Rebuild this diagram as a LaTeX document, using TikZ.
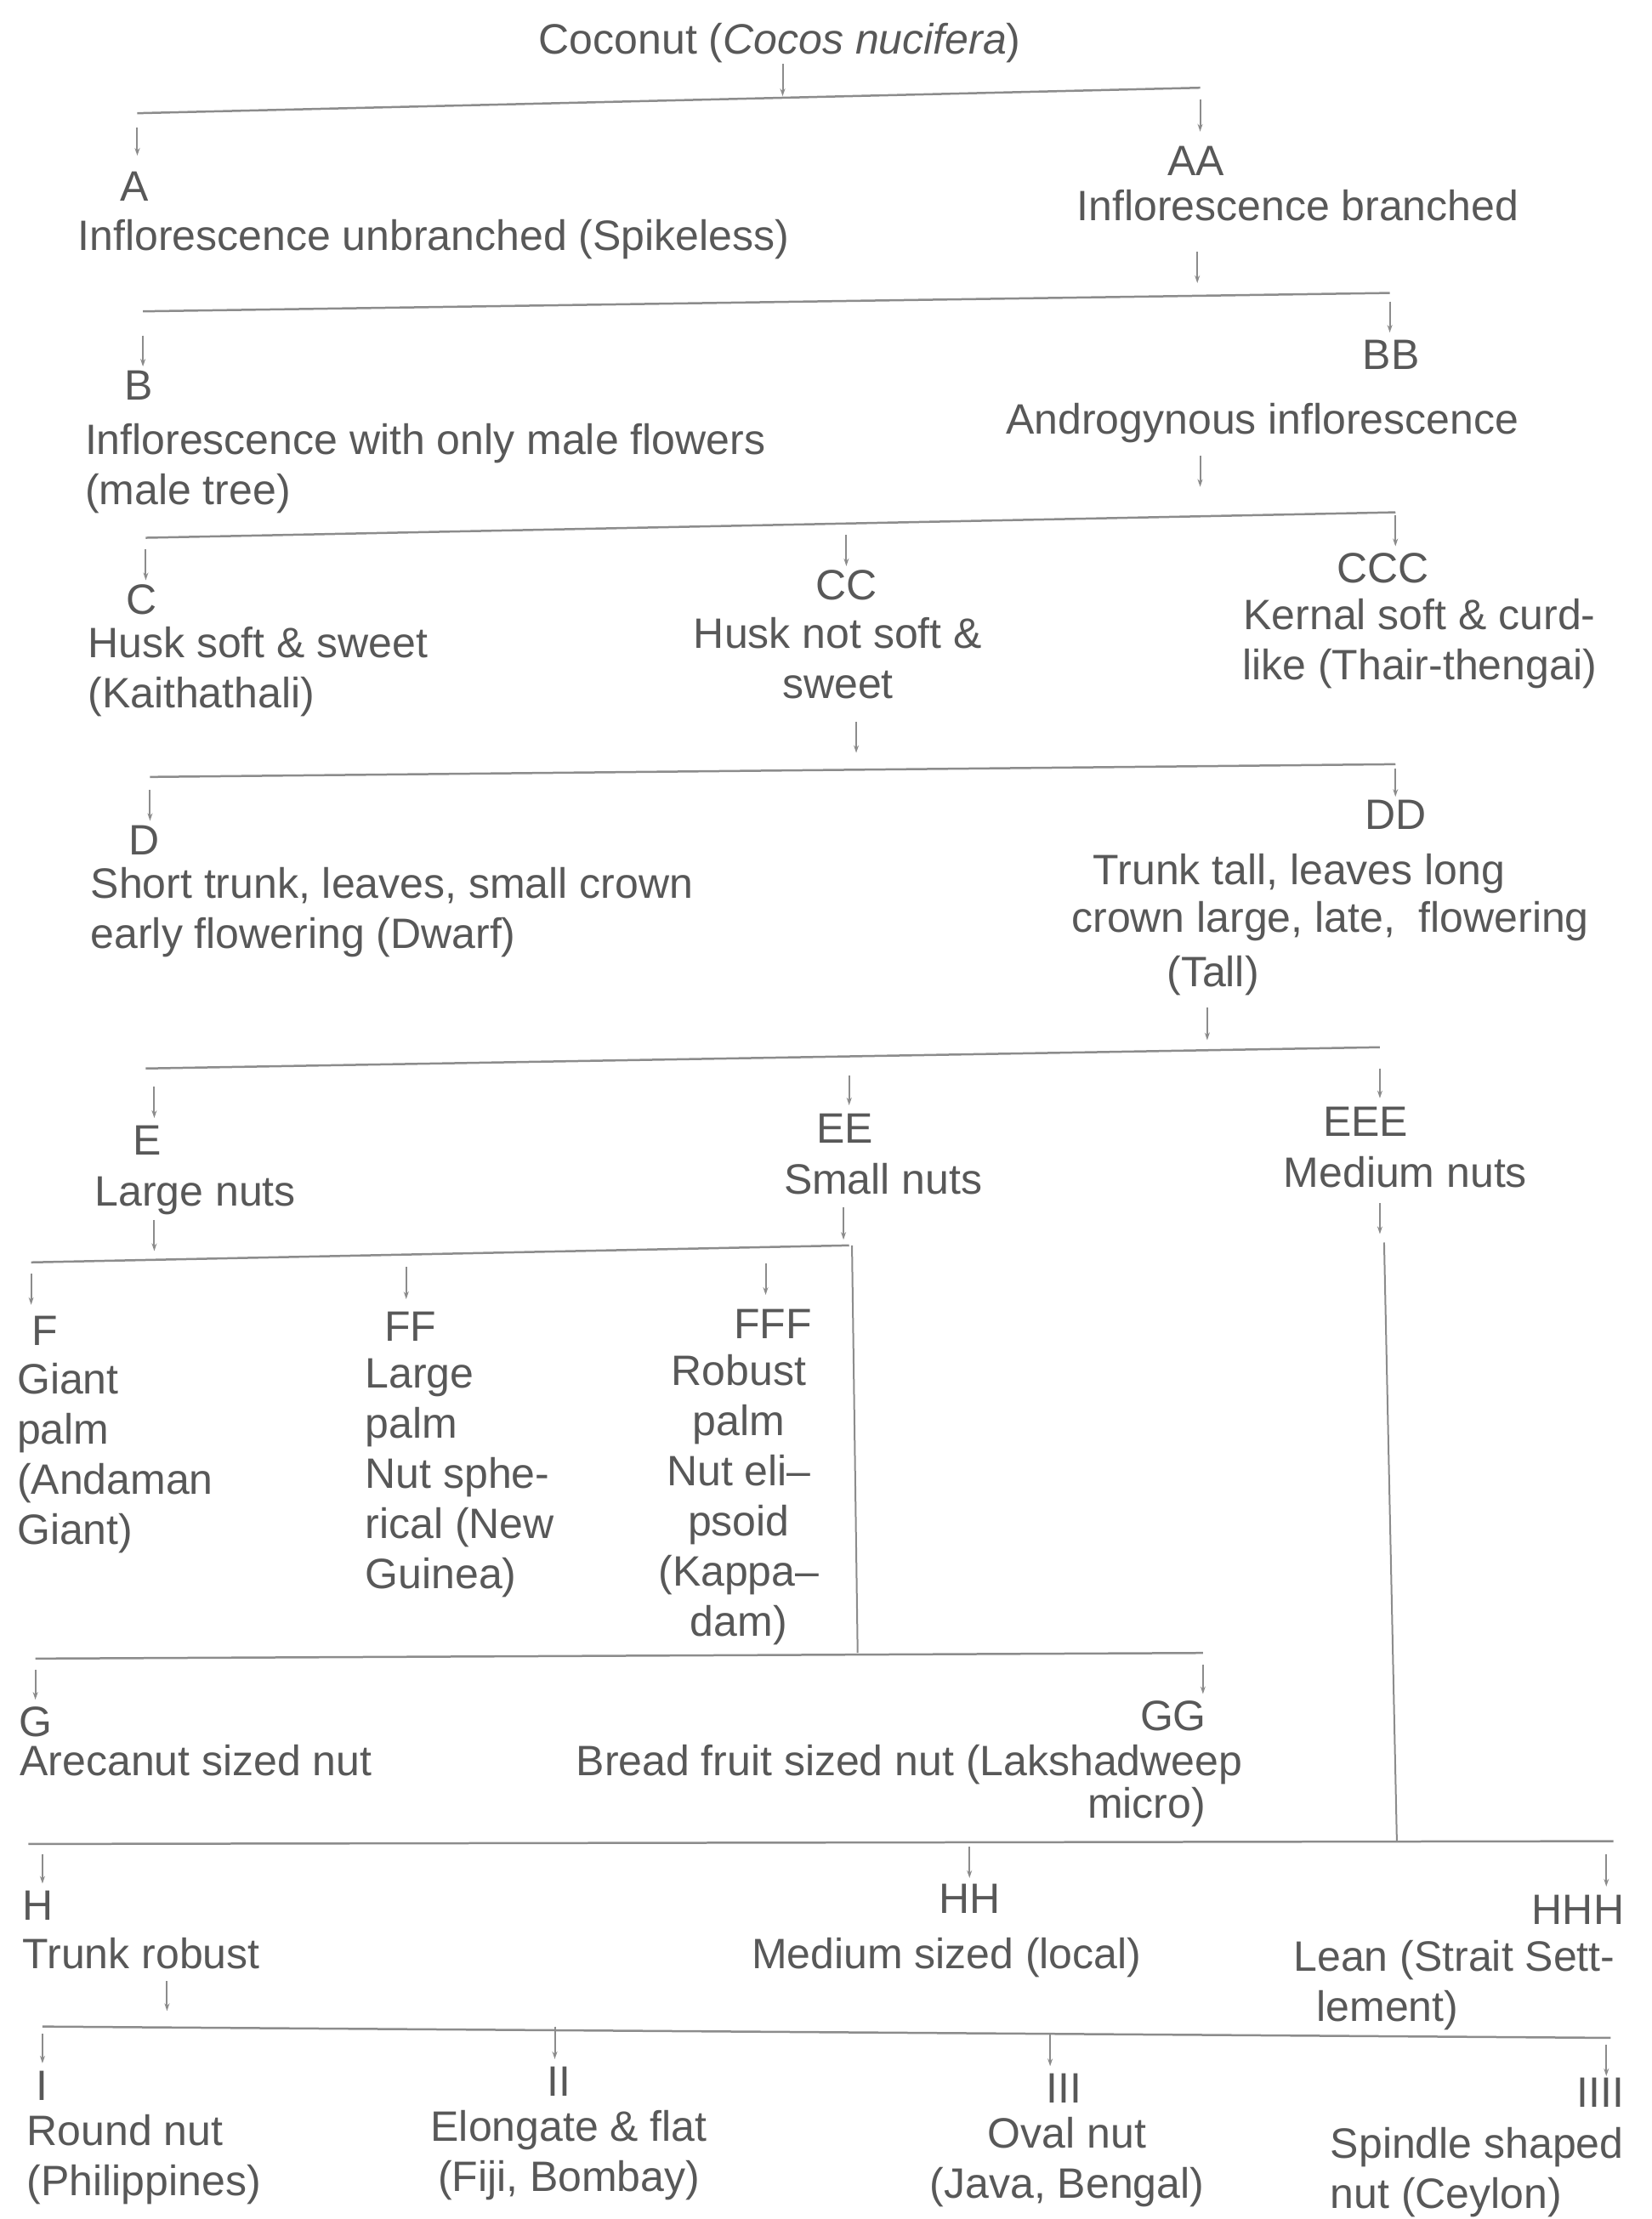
\documentclass[tikz,border=0pt]{standalone}
\usepackage{fontspec}
\usetikzlibrary{arrows.meta}
\newfontfamily\dgfam{Liberation Sans}
\newcommand\dgfont{\dgfam\fontsize{50}{59}\selectfont}
\definecolor{ink}{RGB}{88,88,88}
\definecolor{barc}{RGB}{140,140,140}
\tikzset{
  lab/.style={font=\dgfont, text=ink, inner sep=0pt, anchor=north, execute at begin node=\strut},
  desc/.style={lab, anchor=north west, align=left},
  descc/.style={lab, anchor=north, align=center},
  descr/.style={lab, anchor=north east, align=right},
  bar/.style={draw=barc, line width=2.5pt},
  arr/.style={draw=barc, line width=2pt, -{Stealth[length=9pt,width=6pt]}},
}
\begin{document}
\begin{tikzpicture}[x=1.665pt,y=-1.665pt]
\useasboundingbox (0,0) rectangle (1167,1568);
% ---- title
\node[lab] (top) at (551,13) {Coconut (\textit{Cocos nucifera})};
\coordinate (t0) at (553,45); \coordinate (t1) at (553,68);
\draw[arr] (t0) -- (t1);
% ---- level A
\coordinate (b1l) at (97,80); \coordinate (b1r) at (848,62);
\draw[bar] (b1l) -- (b1r);
\coordinate (aA0) at (97,90); \coordinate (aA1) at (97,110);
\draw[arr] (aA0) -- (aA1);
\node[lab] (A) at (95,117) {A};
\node[desc] (Ad) at (55,152) {Inflorescence unbranched (Spikeless)};
\coordinate (aAA0) at (848,70); \coordinate (aAA1) at (848,93);
\draw[arr] (aAA0) -- (aAA1);
\node[lab] (AA) at (845,99) {AA};
\node[descc] (AAd) at (917,131) {Inflorescence branched};
\coordinate (dAA0) at (846,178); \coordinate (dAA1) at (846,200);
\draw[arr] (dAA0) -- (dAA1);
% ---- level B
\coordinate (b2l) at (101,220); \coordinate (b2r) at (982,207);
\draw[bar] (b2l) -- (b2r);
\coordinate (aB0) at (101,237); \coordinate (aB1) at (101,259);
\draw[arr] (aB0) -- (aB1);
\node[lab] (B) at (98,258) {B};
\node[desc] (Bd) at (60,299) {Inflorescence with only male flowers\\(male tree)};
\coordinate (aBB0) at (982,213); \coordinate (aBB1) at (982,235);
\draw[arr] (aBB0) -- (aBB1);
\node[lab] (BB) at (983,236) {BB};
\node[descc] (BBd) at (892,282) {Androgynous inflorescence};
\coordinate (dBB0) at (848,322); \coordinate (dBB1) at (848,344);
\draw[arr] (dBB0) -- (dBB1);
% ---- level C
\coordinate (b3l) at (103,380); \coordinate (b3r) at (986,362);
\draw[bar] (b3l) -- (b3r);
\coordinate (aC0) at (103,388); \coordinate (aC1) at (103,410);
\draw[arr] (aC0) -- (aC1);
\node[lab] (C) at (100,409) {C};
\node[desc] (Cd) at (62,443) {Husk soft \& sweet\\(Kaithathali)};
\coordinate (aCC0) at (598,378); \coordinate (aCC1) at (598,400);
\draw[arr] (aCC0) -- (aCC1);
\node[lab] (CC) at (598,399) {CC};
\node[descc] (CCd) at (592,436) {Husk not soft \&\\sweet};
\coordinate (dCC0) at (605,510); \coordinate (dCC1) at (605,532);
\draw[arr] (dCC0) -- (dCC1);
\coordinate (aCCC0) at (986,364); \coordinate (aCCC1) at (986,386);
\draw[arr] (aCCC0) -- (aCCC1);
\node[lab] (CCC) at (977,387) {CCC};
\node[descc] (CCCd) at (1003,423) {Kernal soft \& curd-\\like (Thair-thengai)};
% ---- level D
\coordinate (b4l) at (106,549); \coordinate (b4r) at (986,540);
\draw[bar] (b4l) -- (b4r);
\coordinate (aD0) at (106,558); \coordinate (aD1) at (106,580);
\draw[arr] (aD0) -- (aD1);
\node[lab] (D) at (102,579) {D};
\node[desc] (Dd) at (64,613) {Short trunk, leaves, small crown\\early flowering (Dwarf)};
\coordinate (aDD0) at (986,543); \coordinate (aDD1) at (986,563);
\draw[arr] (aDD0) -- (aDD1);
\node[lab] (DD) at (986,561) {DD};
\node[descc] (DDd1) at (918,600) {Trunk tall, leaves long};
\node[descc] (DDd2) at (940,634) {crown large, late,\ \ flowering};
\node[descc] (DDd3) at (857,672) {(Tall)};
\coordinate (dDD0) at (853,712); \coordinate (dDD1) at (853,735);
\draw[arr] (dDD0) -- (dDD1);
% ---- level E
\coordinate (b5l) at (103,755); \coordinate (b5r) at (975,740);
\draw[bar] (b5l) -- (b5r);
\coordinate (aE0) at (109,768); \coordinate (aE1) at (109,790);
\draw[arr] (aE0) -- (aE1);
\node[lab] (E) at (104,791) {E};
\node[desc] (Ed) at (67,827) {Large nuts};
\coordinate (dE0) at (109,862); \coordinate (dE1) at (109,884);
\draw[arr] (dE0) -- (dE1);
\coordinate (aEE0) at (600,760); \coordinate (aEE1) at (600,781);
\draw[arr] (aEE0) -- (aEE1);
\node[lab] (EE) at (597,783) {EE};
\node[descc] (EEd) at (624,819) {Small nuts};
\coordinate (dEE0) at (596,853); \coordinate (dEE1) at (596,876);
\draw[arr] (dEE0) -- (dEE1);
\coordinate (aEEE0) at (975,755); \coordinate (aEEE1) at (975,776);
\draw[arr] (aEEE0) -- (aEEE1);
\node[lab] (EEE) at (965,778) {EEE};
\node[descc] (EEEd) at (993,814) {Medium nuts};
\coordinate (dEEE0) at (975,850); \coordinate (dEEE1) at (975,872);
\draw[arr] (dEEE0) -- (dEEE1);
\coordinate (vEEE0) at (978,878); \coordinate (vEEE1) at (987,1301);
\draw[bar, line width=2pt] (vEEE0) -- (vEEE1);
% ---- level F
\coordinate (b6l) at (22,892); \coordinate (b6r) at (600,880);
\draw[bar] (b6l) -- (b6r);
\coordinate (vEE0) at (602,880); \coordinate (vEE1) at (606,1168);
\draw[bar, line width=2pt] (vEE0) -- (vEE1);
\coordinate (aF0) at (22,900); \coordinate (aF1) at (22,922);
\draw[arr] (aF0) -- (aF1);
\node[lab] (F) at (32,926) {F};
\node[desc] (Fd) at (12,963) {Giant\\palm\\(Andaman\\Giant)};
\coordinate (aFF0) at (287,895); \coordinate (aFF1) at (287,918);
\draw[arr] (aFF0) -- (aFF1);
\node[lab] (FF) at (290,923) {FF};
\node[desc] (FFd) at (258,960) {Large\\palm\\Nut sphe-\\rical (New\\Guinea)};
\coordinate (aFFF0) at (541,893); \coordinate (aFFF1) at (541,915);
\draw[arr] (aFFF0) -- (aFFF1);
\node[lab] (FFF) at (546,921) {FFF};
\node[descc] (FFFd) at (522,957) {Robust\\palm\\Nut eli–\\psoid\\(Kappa–\\dam)};
% ---- level G
\coordinate (b7l) at (25,1172); \coordinate (b7r) at (850,1168);
\draw[bar] (b7l) -- (b7r);
\coordinate (aG0) at (25,1180); \coordinate (aG1) at (25,1201);
\draw[arr] (aG0) -- (aG1);
\node[lab] (G) at (25,1202) {G};
\node[desc] (Gd) at (14,1230) {Arecanut sized nut};
\coordinate (aGG0) at (850,1176); \coordinate (aGG1) at (850,1197);
\draw[arr] (aGG0) -- (aGG1);
\node[lab] (GG) at (829,1198) {GG};
\node[desc] (GGd1) at (407,1230) {Bread fruit sized nut (Lakshadweep};
\node[descr] (GGd2) at (852,1260) {micro)};
% ---- level H
\coordinate (b8l) at (20,1303); \coordinate (b8r) at (1140,1301);
\draw[bar] (b8l) -- (b8r);
\coordinate (aH0) at (30,1310); \coordinate (aH1) at (30,1331);
\draw[arr] (aH0) -- (aH1);
\node[lab] (H) at (27,1332) {H};
\node[desc] (Hd) at (16,1366) {Trunk robust};
\coordinate (dH0) at (118,1400); \coordinate (dH1) at (118,1421);
\draw[arr] (dH0) -- (dH1);
\coordinate (aHH0) at (685,1305); \coordinate (aHH1) at (685,1327);
\draw[arr] (aHH0) -- (aHH1);
\node[lab] (HH) at (685,1327) {HH};
\node[desc] (HHd) at (531,1366) {Medium sized (local)};
\coordinate (aHHH0) at (1135,1310); \coordinate (aHHH1) at (1135,1333);
\draw[arr] (aHHH0) -- (aHHH1);
\node[lab] (HHH) at (1115,1335) {HHH};
\node[desc] (HHHd) at (914,1371) {Lean (Strait Sett-\\\hspace*{27pt}lement)};
% ---- level I
\coordinate (b9l) at (30,1432); \coordinate (b9r) at (1138,1440);
\draw[bar] (b9l) -- (b9r);
\coordinate (aI0) at (30,1437); \coordinate (aI1) at (30,1458);
\draw[arr] (aI0) -- (aI1);
\node[lab] (I) at (30,1459) {I};
\node[desc] (Id) at (19,1494) {Round nut\\(Philippines)};
\coordinate (aII0) at (392,1432); \coordinate (aII1) at (392,1455);
\draw[arr] (aII0) -- (aII1);
\node[lab] (II) at (395,1456) {II};
\node[descc] (IId) at (402,1491) {Elongate \& flat\\(Fiji, Bombay)};
\coordinate (aIII0) at (742,1437); \coordinate (aIII1) at (742,1460);
\draw[arr] (aIII0) -- (aIII1);
\node[lab] (III) at (752,1461) {III};
\node[descc] (IIId) at (754,1496) {Oval nut\\(Java, Bengal)};
\coordinate (aIIII0) at (1135,1445); \coordinate (aIIII1) at (1135,1467);
\draw[arr] (aIIII0) -- (aIIII1);
\node[lab] (IIII) at (1131,1464) {IIII};
\node[desc] (IIIId) at (940,1503) {Spindle shaped\\nut (Ceylon)};
\end{tikzpicture}
\end{document}
